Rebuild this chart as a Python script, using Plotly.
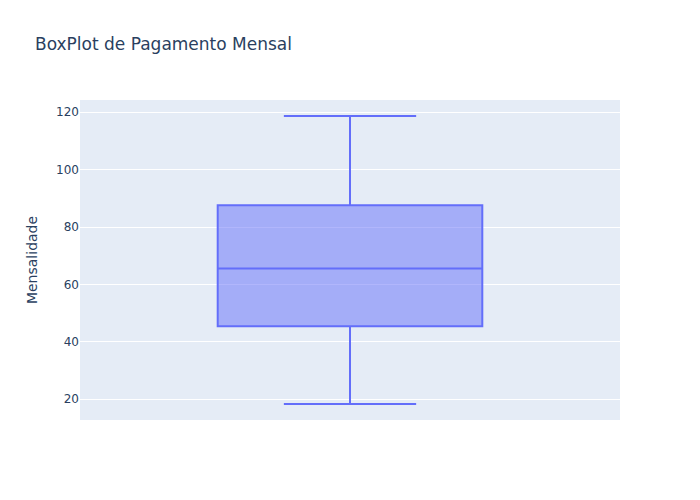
import plotly.graph_objects as go

labels = [" "]
q1 = [45.4]
median = [65.5]
q3 = [87.6]
lowerfence = [18.3]
upperfence = [118.7]

fig = go.Figure()
fig.add_trace(go.Box(
    x=labels, q1=q1, median=median, q3=q3,
    lowerfence=lowerfence, upperfence=upperfence,
    name="", marker_color="#636efa", showlegend=False,
))
fig.update_layout(
    title=dict(text="BoxPlot de Pagamento Mensal"),
    yaxis_title="Mensalidade",
    font=dict(family="Verdana, DejaVu Sans, sans-serif"),
    width=700, height=500,
    boxmode="group",
)
fig.write_html("out.html")
